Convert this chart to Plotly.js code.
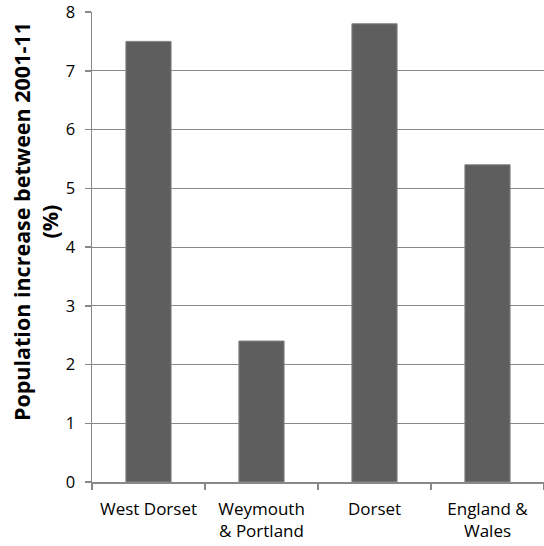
<!DOCTYPE html>
<html>
<head>
<meta charset="utf-8">
<script src="https://cdn.plot.ly/plotly-3.0.1.min.js"></script>
<style>
  html, body { margin: 0; padding: 0; background: #fff; }
  #chart { width: 544px; height: 546px; }
</style>
</head>
<body>
<div id="chart"></div>
<script>
// Population change 2001-11 by area
const areas = ["West Dorset", "Weymouth<br>& Portland", "Dorset", "England &<br>Wales"];
const increasePct = [7.5, 2.4, 7.8, 5.4];
const yTicks = [0, 1, 2, 3, 4, 5, 6, 7, 8];
const yTitle = "Population increase between 2001-11<br>(%)";

const axisGrey = "#888888";
const fontFamily = "'Open Sans', sans-serif";

const trace = {
  type: "bar",
  x: areas,
  y: increasePct,
  width: 0.4,
  marker: { color: "#5e5e5e", line: { color: "#868686", width: 1 } },
  hoverinfo: "x+y"
};

const layout = {
  width: 544,
  height: 546,
  margin: { l: 92, r: 0, t: 12, b: 64 },
  paper_bgcolor: "#fff",
  plot_bgcolor: "#fff",
  showlegend: false,
  font: { family: fontFamily, color: "#000", size: 15 },
  xaxis: {
    type: "category",
    showline: true,
    linecolor: axisGrey,
    linewidth: 1.5,
    ticks: "outside",
    tickson: "boundaries",
    ticklen: 6,
    tickcolor: axisGrey,
    tickwidth: 1.5,
    ticklabelstandoff: 11,
    ticklabeloverflow: "allow",
    tickfont: { family: fontFamily, size: 17, color: "#000" },
    showgrid: false,
    zeroline: false
  },
  yaxis: {
    range: [0, 8],
    tickvals: yTicks,
    showline: true,
    linecolor: axisGrey,
    linewidth: 1.5,
    ticks: "outside",
    ticklen: 6,
    tickcolor: axisGrey,
    tickwidth: 1.5,
    ticklabelstandoff: 6,
    ticklabeloverflow: "allow",
    tickfont: { family: fontFamily, size: 16.5, color: "#000" },
    showgrid: true,
    gridcolor: axisGrey,
    gridwidth: 1,
    zeroline: false
  },
  // Axis title placed as an annotation so it can sit slightly above centre
  annotations: [{
    text: yTitle,
    xref: "paper",
    yref: "paper",
    x: 0,
    xshift: -57,
    xanchor: "center",
    y: 0.553,
    yanchor: "middle",
    textangle: -90,
    showarrow: false,
    align: "center",
    font: { family: fontFamily, size: 21.5, color: "#000", weight: "bold" }
  }],
  bargap: 0.6
};

Plotly.newPlot("chart", [trace], layout, { displayModeBar: false, staticPlot: true });
</script>
</body>
</html>
